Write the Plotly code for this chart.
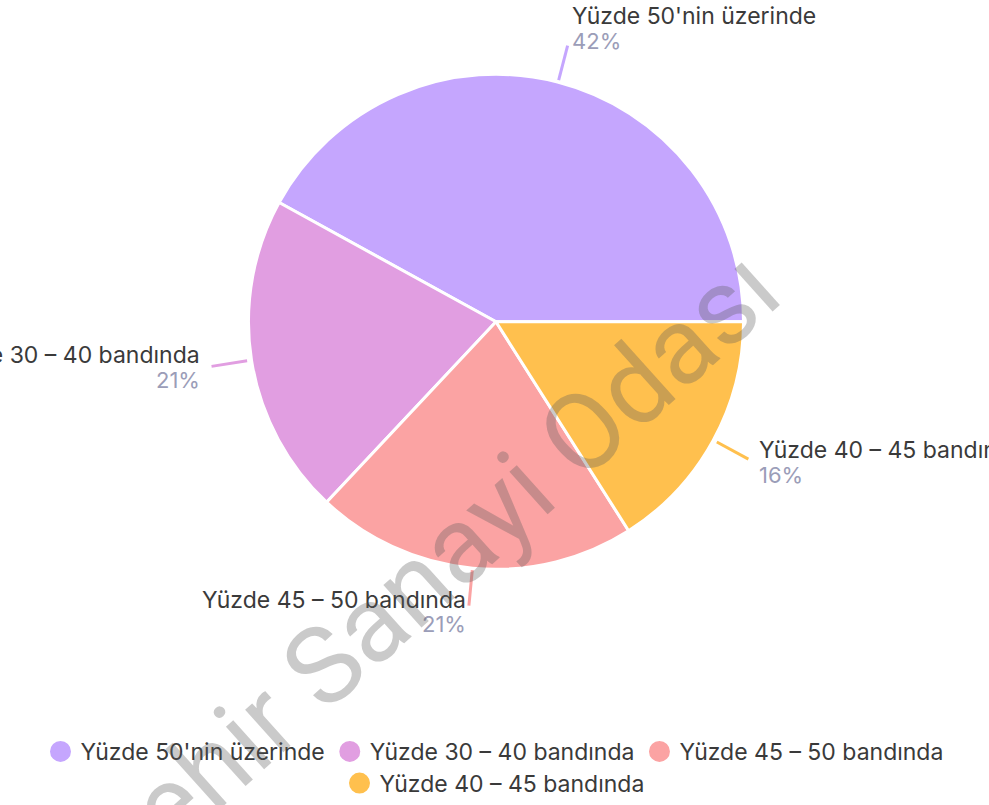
import math
import plotly.graph_objects as go

categories = ["Yüzde 50'nin üzerinde", "Yüzde 30 – 40 bandında", "Yüzde 45 – 50 bandında", "Yüzde 40 – 45 bandında"]
values = [42, 21, 21, 16]
percent_labels = ["42%", "21%", "21%", "16%"]
colors = ["#C5A6FE", "#E19EE1", "#FBA3A3", "#FFC04E"]
watermark = "Eskişehir Sanayi Odası"

W, H = 989, 805
CX, CY, R = 496, 325, 250
LABEL_COLOR = "#3a3a3a"
PCT_COLOR = "#9b9db8"
FONT = "Inter"
FS = 23

def px(x):
    return x / W

def py(y):
    return 1 - y / H

total = sum(values)
# first slice starts at 3 o'clock and runs counterclockwise
rotation = 90 - 360 * values[0] / total

fig = go.Figure()
fig.add_trace(go.Pie(
    labels=categories, values=values, sort=False, direction="counterclockwise",
    rotation=rotation, textinfo="none", hoverinfo="label+percent",
    marker=dict(colors=colors, line=dict(color="white", width=3)),
    domain=dict(x=[px(CX - R), px(CX + R)], y=[py(CY + R), py(CY - R)]),
    showlegend=False,
))

# legend entries with circle symbols (first three in row one, last centred below)
for i, (c, col) in enumerate(zip(categories, colors)):
    fig.add_trace(go.Scatter(x=[None], y=[None], mode="markers", name=c,
                             marker=dict(symbol="circle", size=16, color=col,
                                         line=dict(color=col, width=5)),
                             legend="legend" if i < 3 else "legend2",
                             showlegend=True))

shapes = []
annotations = []
cum = 0.0
for cat, v, pct, col in zip(categories, values, percent_labels, colors):
    mid = (cum + v / 2) / total * 2 * math.pi
    cum += v
    c, s = math.cos(mid), math.sin(mid)
    x0, y0 = CX + (R + 2) * c, CY - (R + 2) * s
    x1, y1 = CX + (R + 38) * c, CY - (R + 38) * s
    shapes.append(dict(type="line", xref="paper", yref="paper",
                       x0=px(x0), y0=py(y0), x1=px(x1), y1=py(y1),
                       line=dict(color=col, width=3)))
    left = c > 0
    tx = x1 + 10 * c
    cy_block = y1 - 18 * max(s, 0) + 6 * max(-s, 0)
    anchor = "left" if left else "right"
    annotations.append(dict(
        x=px(tx), y=py(cy_block - 12), xref="paper", yref="paper", showarrow=False,
        xanchor=anchor, yanchor="middle", align=anchor, text=cat,
        font=dict(family=FONT, size=FS, color=LABEL_COLOR),
    ))
    annotations.append(dict(
        x=px(tx), y=py(cy_block + 13), xref="paper", yref="paper", showarrow=False,
        xanchor=anchor, yanchor="middle", align=anchor, text=pct,
        font=dict(family=FONT, size=FS - 1, color=PCT_COLOR),
    ))

annotations.append(dict(
    x=px(359), y=py(640), xref="paper", yref="paper", showarrow=False,
    xanchor="center", yanchor="middle", textangle=-42,
    text=watermark, font=dict(family="Roboto", size=108, color="rgba(90,90,90,0.32)"),
))

legend_common = dict(orientation="h", x=0.5, xanchor="center", yanchor="middle",
                     font=dict(family=FONT, size=FS, color=LABEL_COLOR),
                     itemwidth=30, bgcolor="rgba(0,0,0,0)")

fig.update_layout(
    width=W, height=H, margin=dict(l=0, r=0, t=0, b=0),
    paper_bgcolor="white", plot_bgcolor="white",
    xaxis=dict(visible=False), yaxis=dict(visible=False),
    shapes=shapes, annotations=annotations,
    legend=dict(y=py(759), **legend_common),
    legend2=dict(y=py(791), **legend_common),
)

fig.write_html(
    "out.html", config={"displayModeBar": False},
    post_script=("document.documentElement.style.overflow='hidden';"
                 "document.body.style.margin='0';document.body.style.overflow='hidden';"
                 "window.scrollTo(0,0);"),
)
